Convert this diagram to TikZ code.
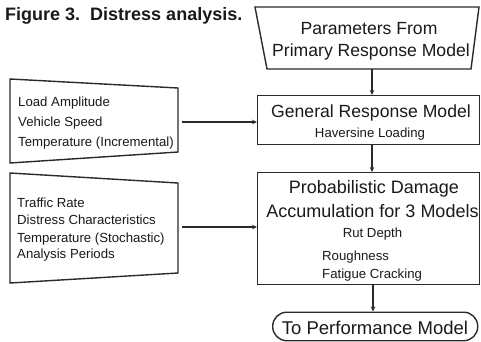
\documentclass[tikz,border=0pt]{standalone}
\usepackage{fontspec}
\setmainfont{Liberation Sans}
\usetikzlibrary{arrows.meta}
\definecolor{linec}{HTML}{2A2A2A}
\definecolor{txt}{HTML}{1A1A1A}
\begin{document}
\begin{tikzpicture}[x=1pt,y=-1pt,
  box/.style={draw=linec, line width=1.4pt},
  arr/.style={draw=linec, line width=1.1pt, -{Stealth[length=5pt,width=4.5pt]}},
  big/.style={font=\fontsize{17.6}{20}\selectfont, inner sep=0pt, text=txt},
  small/.style={font=\fontsize{13.2}{16}\selectfont, inner sep=0pt, text=txt},
  rbox/.style={box, inner sep=0pt, anchor=north west, minimum width=222pt}
]
\useasboundingbox[fill=white] (0,0) rectangle (481,341);

% title
\node[anchor=base west, inner sep=0pt, text=txt, font=\bfseries\fontsize{18}{20}\selectfont] (title) at (5,20) {Figure 3.\ \ Distress analysis.};

% top trapezoid
\draw[box] (255,7) -- (479,7) -- (471,69) -- (267,69) -- cycle;
\coordinate (tb) at (372,69);
\node[big, anchor=base] (p1) at (369,34) {Parameters From};
\node[big, anchor=base] (p2) at (371,56) {Primary Response Model};

% general response model
\node[rbox, minimum height=49pt] (grm) at (257,95) {};
\node[big, anchor=base] (g1) at (371,117) {General Response Model};
\node[small, anchor=base] (g2) at (370,137) {Haversine Loading};

% probabilistic damage
\node[rbox, minimum height=112pt] (pdm) at (257,172) {};
\node[big, anchor=base, font=\fontsize{18}{20}\selectfont] (d1) at (374,193) {Probabilistic Damage};
\node[big, anchor=base, font=\fontsize{18}{20}\selectfont] (d2) at (372.5,217) {Accumulation for 3 Models};
\node[small, anchor=base] (d3) at (372.5,237) {Rut Depth};
\node[small, anchor=base west] (d4) at (322,260) {Roughness};
\node[small, anchor=base west] (d5) at (322,278) {Fatigue Cracking};

% to performance model
\node[box, rounded corners=14pt, inner sep=0pt, anchor=north west, minimum width=205pt, minimum height=28.5pt] (perf) at (272,311.5) {};
\node[big, anchor=base, font=\fontsize{18.5}{20}\selectfont] (pt) at (375,334) {To Performance Model};

% left boxes
\draw[box] (10,79) -- (178,88) -- (178,152) -- (10,163) -- cycle;
\coordinate (l1e) at (182,122);
\node[small, anchor=base west] (a1) at (18,106) {Load Amplitude};
\node[small, anchor=base west] (a2) at (18,126) {Vehicle Speed};
\node[small, anchor=base west] (a3) at (18,146) {Temperature (Incremental)};

\draw[box] (10,173) -- (178,183) -- (178,273) -- (10,283) -- cycle;
\coordinate (l2e) at (182,227);
\node[small, anchor=base west] (b1) at (17,207) {Traffic Rate};
\node[small, anchor=base west] (b2) at (17,224.5) {Distress Characteristics};
\node[small, anchor=base west] (b3) at (17,242) {Temperature (Stochastic)};
\node[small, anchor=base west] (b4) at (17,258.5) {Analysis Periods};

% connectors
\coordinate (ax) at (372,0);
\coordinate (bx) at (373,0);
\draw[arr] (tb) -- (tb |- grm.north);
\draw[arr] (grm.south -| ax) -- (pdm.north -| ax);
\draw[arr] (pdm.south -| bx) -- (perf.north -| bx);
\draw[arr] (l1e) -- (l1e -| grm.west);
\draw[arr] (l2e) -- (l2e -| pdm.west);
\end{tikzpicture}
\end{document}
